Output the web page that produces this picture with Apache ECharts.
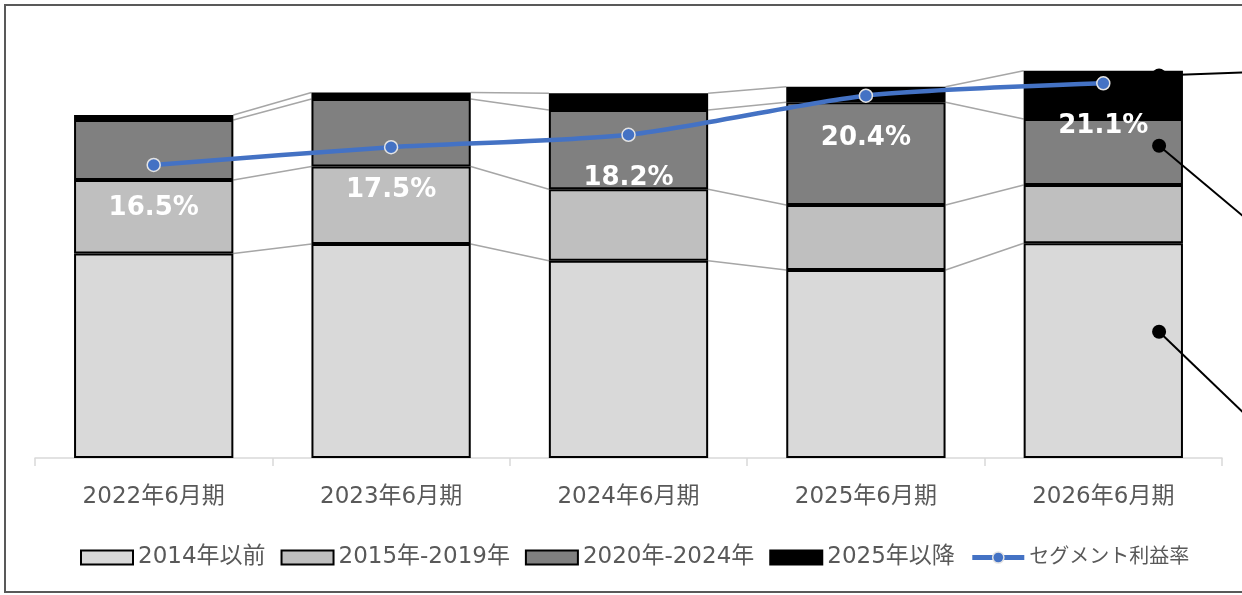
<!DOCTYPE html>
<html>
<head>
<meta charset="utf-8">
<script src="https://cdn.jsdelivr.net/npm/echarts@6/dist/echarts.min.js"></script>
<style>
html,body{margin:0;padding:0;background:#fff;}
#chart{width:1242px;height:595px;}
</style>
</head>
<body>
<div id="chart"></div>
<script>
// ---- data ----
const categories = ['2022年6月期', '2023年6月期', '2024年6月期', '2025年6月期', '2026年6月期'];
const seriesNames = ['2014年以前', '2015年-2019年', '2020年-2024年', '2025年以降', 'セグメント利益率'];
const before2014 = [204.5, 214, 197.3, 188, 214.7];
const y2015to2019 = [73.5, 77.5, 71.4, 65, 58.3];
const y2020to2024 = [60, 67.5, 79.3, 102.7, 66];
const after2025 = [5, 6.5, 16.7, 15.6, 48.3];
const segmentMargin = [16.5, 17.5, 18.2, 20.4, 21.1];
// annotation anchors on the last bar (values on primary axis)
const annotationValues = [382.5, 312.3, 126.3];

const FONT = "'DejaVu Sans','Noto Sans CJK JP',sans-serif";
const BAR_RATIO = 0.671;

const stacks = [before2014, y2015to2019, y2020to2024, after2025];
const colors = ['#D9D9D9', '#BFBFBF', '#808080', '#000000'];

// cumulative levels for connectors
const cum = [];
for (let s = 0; s < stacks.length; s++) {
  cum.push(categories.map((c, i) => {
    let t = 0;
    for (let k = 0; k <= s; k++) t += stacks[k][i];
    return t;
  }));
}
const connectorData = [];
for (let s = 0; s < cum.length; s++) {
  for (let i = 0; i < categories.length - 1; i++) {
    connectorData.push([i, cum[s][i], cum[s][i + 1]]);
  }
}

const chart = echarts.init(document.getElementById('chart'), null, {renderer: 'canvas'});

const barSeries = stacks.map((d, k) => ({
  name: seriesNames[k],
  type: 'bar',
  stack: 'total',
  barWidth: (BAR_RATIO * 100) + '%',
  data: d,
  z: 3,
  itemStyle: {color: colors[k], borderColor: '#000', borderWidth: 2}
}));

const option = {
  animation: false,
  backgroundColor: '#fff',
  grid: {left: 35, right: 20, top: 14, bottom: 137},
  xAxis: {
    type: 'category',
    data: categories,
    axisLine: {lineStyle: {color: '#D9D9D9', width: 1.5}},
    axisTick: {show: true, length: 8, lineStyle: {color: '#D9D9D9', width: 1.5}},
    axisLabel: {color: '#595959', fontSize: 23, fontFamily: FONT, margin: 25, lineHeight: 28}
  },
  yAxis: [
    {type: 'value', min: 0, max: 444, show: false, splitLine: {show: false}},
    {type: 'value', min: 0, max: 25, show: false, splitLine: {show: false}}
  ],
  legend: {
    left: 75,
    top: 541,
    itemWidth: 52,
    itemHeight: 14,
    itemGap: 15,
    textStyle: {color: '#595959', fontSize: 23, fontFamily: FONT},
    data: [
      {name: seriesNames[0], icon: 'rect', itemStyle: {color: colors[0], borderColor: '#000', borderWidth: 2}},
      {name: seriesNames[1], icon: 'rect', itemStyle: {color: colors[1], borderColor: '#000', borderWidth: 2}},
      {name: seriesNames[2], icon: 'rect', itemStyle: {color: colors[2], borderColor: '#000', borderWidth: 2}},
      {name: seriesNames[3], icon: 'rect', itemStyle: {color: colors[3], borderColor: '#000', borderWidth: 2}},
      {name: seriesNames[4], lineStyle: {color: '#4472C4', width: 5},
       itemStyle: {color: '#4472C4', borderColor: '#E3E3E3', borderWidth: 1.5},
       textStyle: {color: '#595959', fontSize: 20, fontFamily: FONT}}
    ]
  },
  series: [
    {
      type: 'custom',
      name: 'connectors',
      silent: true,
      z: 1,
      data: connectorData,
      encode: {x: 0, y: 1},
      renderItem: function (params, api) {
        const i = api.value(0);
        const p1 = api.coord([i, api.value(1)]);
        const p2 = api.coord([i + 1, api.value(2)]);
        const half = api.size([1, 0])[0] * BAR_RATIO / 2;
        return {
          type: 'line',
          shape: {x1: p1[0] + half, y1: p1[1], x2: p2[0] - half, y2: p2[1]},
          style: {stroke: '#A6A6A6', lineWidth: 1.5}
        };
      }
    },
    ...barSeries,
    {
      name: seriesNames[4],
      type: 'line',
      yAxisIndex: 1,
      data: segmentMargin,
      z: 6,
      smooth: 0.25,
      symbol: 'circle',
      symbolSize: 13,
      lineStyle: {color: '#4472C4', width: 4.5},
      itemStyle: {color: '#4472C4', borderColor: '#E3E3E3', borderWidth: 1.5},
      label: {
        show: true,
        position: 'inside',
        offset: [0, 43],
        formatter: p => p.value.toFixed(1) + '%',
        color: '#fff',
        fontSize: 26,
        fontWeight: 'bold',
        fontFamily: "'DejaVu Sans',sans-serif"
      }
    }
  ],
  graphic: [
    {
      id: 'frame',
      type: 'rect',
      silent: true,
      shape: {x: 5, y: 5, width: 1300, height: 587},
      style: {fill: 'none', stroke: '#595959', lineWidth: 2},
      z: 100
    }
  ]
};

chart.setOption(option);

// annotation callouts on the right side of the last bar
const last = categories.length - 1;
const catW = chart.convertToPixel({xAxisIndex: 0}, 1) - chart.convertToPixel({xAxisIndex: 0}, 0);
const dotX = chart.convertToPixel({xAxisIndex: 0}, last) + catW * 0.235;
const ends = [[1250, 72.3], [1250, 222], [1250, 419]];
const g = [];
annotationValues.forEach((v, k) => {
  const y = chart.convertToPixel({yAxisIndex: 0}, v);
  g.push({
    id: 'annLine' + k, type: 'line', silent: true, z: 50,
    shape: {x1: dotX, y1: y, x2: ends[k][0], y2: ends[k][1]},
    style: {stroke: '#000', lineWidth: 2}
  });
  g.push({
    id: 'annDot' + k, type: 'circle', silent: true, z: 51,
    shape: {cx: dotX, cy: y, r: 7},
    style: {fill: '#000'}
  });
});
chart.setOption({graphic: g});
</script>
</body>
</html>
